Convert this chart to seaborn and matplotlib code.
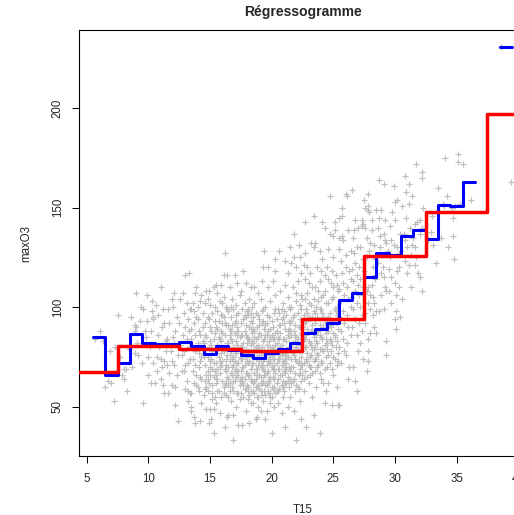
import matplotlib
matplotlib.use("Agg")
import matplotlib.pyplot as plt
import pandas as pd
import seaborn as sns

# Daily observations: afternoon temperature T15 (°C) and maximum ozone maxO3,
# grouped by 1-degree temperature column (same order in both lists).
t15_cols = [
    [5.7, 6.1, 6.3],
    [6.5, 6.7, 7.0, 7.2, 6.9, 7.3],
    [7.5, 8.0, 8.2, 8.0, 8.3, 7.7, 7.9, 8.4],
    [8.9, 9.2, 8.9, 9.0, 8.9, 9.0, 9.4, 8.6, 9.1, 8.7, 9.3],
    [9.5, 9.6, 9.7, 9.9, 10.0, 10.0, 10.2, 10.3, 10.3, 10.4, 10.4, 10.4, 10.5, 9.8, 10.1, 9.6, 10.2, 9.9],
    [10.7, 11.0, 11.0, 11.2, 11.2, 11.3, 11.3, 10.8, 11.1, 10.9, 11.4, 10.7, 11.3, 10.6, 11.0, 10.8, 11.4, 11.1],
    [11.5, 11.6, 11.6, 11.7, 11.9, 11.9, 12.1, 12.1, 12.2, 12.2, 12.4, 11.8, 12.0, 12.2, 12.4, 11.7, 12.3, 12.4,
     12.0, 11.5, 12.3, 11.9, 12.1],
    [12.6, 12.7, 12.9, 13.0, 13.0, 13.0, 13.2, 13.2, 13.3, 13.4, 13.1, 13.3, 12.8, 13.0, 13.2, 12.7, 13.4, 13.1,
     12.9, 13.3, 12.5, 12.6, 13.1, 12.8, 13.4, 12.9, 13.2],
    [13.5, 13.5, 13.5, 13.7, 13.8, 13.8, 14.2, 14.3, 14.3, 13.6, 14.0, 14.2, 13.7, 13.9, 14.1, 14.3, 13.6, 13.8,
     14.0, 14.2, 14.4, 13.7, 13.9, 14.1, 14.4, 13.5, 14.4, 14.0, 13.6, 14.1, 13.8, 14.3, 13.9, 14.2, 13.5],
    [14.7, 14.9, 14.7, 15.0, 14.9, 15.1, 15.3, 15.3, 15.3, 14.6, 15.0, 15.4, 14.5, 14.6, 14.8, 15.0, 15.2, 15.4,
     14.6, 14.8, 15.0, 15.2, 15.4, 14.5, 14.7, 14.9, 15.1, 15.3, 14.6, 14.8, 15.0, 15.2, 15.4, 14.7, 15.1, 14.9,
     15.3, 14.5, 15.2, 14.8],
    [15.5, 15.9, 16.1, 16.2, 16.4, 15.8, 16.0, 16.3, 15.6, 16.1, 15.5, 15.7, 15.9, 16.1, 16.3, 15.6, 15.8, 16.0,
     16.2, 16.4, 15.5, 15.7, 15.9, 16.1, 16.3, 15.6, 15.8, 16.0, 16.2, 16.4, 15.5, 15.7, 15.9, 16.1, 16.3, 15.6,
     16.0, 16.4, 15.8, 16.2, 15.7, 16.0, 16.3, 15.9, 16.2, 15.6],
    [16.9, 16.5, 16.9, 17.0, 17.2, 16.6, 16.8, 17.1, 17.4, 16.5, 16.7, 16.9, 17.1, 17.3, 16.6, 16.8, 17.0, 17.2,
     17.4, 16.5, 16.7, 16.9, 17.1, 17.3, 16.6, 16.8, 17.0, 17.2, 17.4, 16.5, 16.7, 16.9, 17.1, 17.3, 16.6, 16.8,
     17.0, 17.2, 17.4, 16.5, 16.7, 17.1, 17.3, 16.8, 17.0, 16.6, 17.2, 16.9, 17.3, 16.7, 17.1, 16.5, 17.4],
    [17.6, 18.2, 17.9, 18.3, 17.5, 17.7, 17.9, 18.1, 18.3, 17.6, 17.8, 18.0, 18.2, 18.4, 17.5, 17.7, 17.9, 18.1,
     18.3, 17.6, 17.8, 18.0, 18.2, 18.4, 17.5, 17.7, 17.9, 18.1, 18.3, 17.6, 17.8, 18.0, 18.2, 18.4, 17.5, 17.7,
     17.9, 18.1, 18.3, 17.6, 17.8, 18.0, 18.2, 18.4, 17.5, 17.9, 18.3, 17.7, 18.1, 17.8, 18.0, 18.2, 17.6, 18.4,
     17.9, 18.1, 17.5, 18.3],
    [18.8, 18.6, 19.3, 19.4, 18.7, 19.1, 18.5, 18.9, 19.3, 18.6, 18.8, 19.0, 19.2, 19.4, 18.5, 18.7, 18.9, 19.1,
     19.3, 18.6, 18.8, 19.0, 19.2, 19.4, 18.5, 18.7, 18.9, 19.1, 19.3, 18.6, 18.8, 19.0, 19.2, 19.4, 18.5, 18.7,
     18.9, 19.1, 19.3, 18.6, 18.8, 19.0, 19.2, 19.4, 18.5, 18.7, 19.0, 19.3, 18.6, 19.1, 18.9, 19.2, 18.8, 19.0,
     19.2, 18.6, 19.4, 18.7, 19.1, 18.9, 19.3],
    [20.0, 19.5, 20.3, 19.7, 20.3, 19.6, 19.9, 20.2, 19.5, 19.7, 19.9, 20.1, 20.3, 19.6, 19.8, 20.0, 20.2, 20.4,
     19.5, 19.7, 19.9, 20.1, 20.3, 19.6, 19.8, 20.0, 20.2, 20.4, 19.5, 19.7, 19.9, 20.1, 20.3, 19.6, 19.8, 20.0,
     20.2, 20.4, 19.5, 19.7, 19.9, 20.1, 20.3, 19.6, 19.8, 20.0, 20.2, 20.4, 19.5, 19.9, 20.3, 19.7, 20.1, 19.8,
     20.0, 20.2, 19.6, 20.4, 19.9, 20.1],
    [21.1, 20.8, 21.1, 20.6, 21.3, 20.5, 20.9, 21.3, 20.6, 20.8, 21.0, 21.2, 21.4, 20.5, 20.7, 20.9, 21.1, 21.3,
     20.6, 20.8, 21.0, 21.2, 21.4, 20.5, 20.7, 20.9, 21.1, 21.3, 20.6, 20.8, 21.0, 21.2, 21.4, 20.5, 20.7, 20.9,
     21.1, 21.3, 20.6, 20.8, 21.0, 21.2, 21.4, 20.5, 20.9, 21.3, 20.7, 21.1, 20.8, 21.0, 21.2, 20.6, 21.4, 20.9,
     21.1],
    [22.0, 22.4, 21.8, 21.5, 22.2, 21.8, 22.3, 21.6, 22.0, 22.4, 21.5, 21.9, 22.3, 21.6, 21.8, 22.0, 22.2, 22.4,
     21.5, 21.7, 21.9, 22.1, 22.3, 21.6, 21.8, 22.0, 22.2, 22.4, 21.5, 21.7, 21.9, 22.1, 22.3, 21.6, 21.8, 22.0,
     22.2, 22.4, 21.5, 21.7, 21.9, 22.1, 22.3, 21.6, 22.0, 22.4, 21.7, 22.1, 21.9, 22.2, 21.5, 22.3, 21.8],
    [22.8, 23.4, 22.7, 23.4, 23.2, 23.4, 22.7, 22.6, 23.0, 23.3, 22.5, 22.7, 22.9, 23.1, 23.3, 22.6, 22.8, 23.0,
     23.2, 23.4, 22.5, 22.7, 22.9, 23.1, 23.3, 22.6, 22.8, 23.0, 23.2, 23.4, 22.5, 22.7, 22.9, 23.1, 23.3, 22.6,
     22.8, 23.0, 23.2, 23.4, 22.5, 22.9, 23.3, 22.7, 23.1, 22.6, 23.0, 22.8, 23.2, 22.9, 23.4],
    [23.9, 24.3, 24.1, 24.3, 23.9, 23.5, 23.6, 24.0, 24.4, 23.5, 23.7, 23.9, 24.1, 24.3, 23.6, 23.8, 24.0, 24.2,
     24.4, 23.5, 23.7, 23.9, 24.1, 24.3, 23.6, 23.8, 24.0, 24.2, 24.4, 23.5, 23.7, 23.9, 24.1, 24.3, 23.6, 23.8,
     24.0, 24.2, 24.4, 23.5, 23.9, 24.3, 23.7, 24.1, 23.8, 24.2, 24.0],
    [24.7, 24.6, 25.0, 24.7, 25.0, 25.1, 25.1, 24.9, 24.6, 25.0, 25.3, 24.5, 24.7, 24.9, 25.1, 25.3, 24.6, 24.8,
     25.0, 25.2, 25.4, 24.5, 24.7, 24.9, 25.1, 25.3, 24.6, 24.8, 25.0, 25.2, 25.4, 24.5, 24.7, 24.9, 25.1, 25.3,
     24.6, 25.0, 25.4, 24.8, 25.2, 24.5, 24.9, 25.3, 25.4],
    [26.0, 26.1, 25.7, 25.5, 25.7, 25.5, 26.0, 26.4, 25.7, 25.8, 25.5, 25.5, 26.2, 25.6, 26.0, 26.3, 25.5, 25.8,
     26.1, 26.4, 25.6, 25.9, 26.2, 25.5, 25.8, 26.1, 26.4, 25.6, 25.9, 26.2, 25.5, 25.8, 26.1, 26.4, 25.7, 26.0,
     26.3, 25.6, 26.2, 25.9],
    [26.5, 26.9, 26.8, 27.0, 27.4, 26.8, 27.3, 27.3, 27.4, 26.7, 27.0, 26.9, 27.2, 26.6, 26.9, 27.2, 26.5, 26.8,
     27.1, 27.4, 26.6, 26.9, 27.2, 26.5, 26.8, 27.1, 27.4, 26.6, 26.9, 27.2, 26.5, 26.8, 27.1, 27.4, 26.7, 27.0,
     27.3, 26.6],
    [27.7, 27.8, 27.8, 27.8, 27.8, 27.5, 27.8, 27.9, 27.6, 27.8, 28.1, 27.6, 28.1, 27.7, 28.4, 28.1, 27.8, 28.4,
     27.7, 28.0, 27.8, 28.3, 28.0, 28.2, 28.3, 27.6, 28.0, 28.4, 27.9, 28.2, 27.5, 27.7, 28.3, 28.0, 27.6, 28.2],
    [28.7, 29.1, 28.5, 28.9, 28.7, 29.2, 29.1, 29.2, 29.3, 29.1, 29.2, 28.9, 28.5, 28.7, 29.1, 29.3, 28.9, 28.5,
     29.3, 29.3, 28.6, 29.0, 28.8, 29.4, 28.6, 29.0, 28.8],
    [29.9, 30.2, 30.0, 29.6, 30.0, 29.7, 29.9, 30.2, 30.3, 30.2, 30.3, 29.7, 30.0, 29.5, 30.1, 29.7, 30.1, 30.0,
     30.4, 30.1, 29.6, 30.4, 29.8, 30.3, 29.5],
    [30.8, 31.1, 30.9, 31.4, 31.1, 30.6, 30.9, 30.8, 31.0, 31.4, 31.3, 30.8, 31.1, 30.6, 31.2, 30.7, 31.0, 30.5,
     31.3],
    [31.7, 32.2, 32.2, 31.8, 31.6, 32.0, 32.2, 32.0, 31.6, 31.7, 31.6, 31.9, 32.0, 32.2, 31.5, 32.3],
    [32.7, 33.1, 32.9, 33.3, 33.0],
    [33.5, 33.7, 34.3, 34.1, 34.0, 33.9, 34.2],
    [34.7, 34.7, 34.8, 35.1, 35.1, 34.9, 35.3, 34.6],
    [35.5, 36.2],
    [38.6, 39.4],
    # further days in the crowded 14-25 °C range
    [13.6, 13.8, 14.0, 14.2, 14.4, 13.5, 13.9, 14.3, 13.7, 14.1],
    [14.6, 14.8, 15.0, 15.2, 15.4, 14.5, 14.7, 14.9, 15.1, 15.3, 14.6, 14.8, 15.0, 15.2, 15.4],
    [15.6, 15.8, 16.0, 16.2, 16.4, 15.5, 15.7, 15.9, 16.1, 16.3, 15.6, 15.8, 16.0, 16.2, 16.4, 15.5, 15.9, 16.3],
    [16.6, 16.8, 17.0, 17.2, 17.4, 16.5, 16.7, 16.9, 17.1, 17.3, 16.6, 16.8, 17.0, 17.2, 17.4, 16.5, 16.9, 17.3,
     16.7, 17.1],
    [17.5, 17.7, 17.9, 18.1, 18.3, 17.6, 17.8, 18.0, 18.2, 18.4, 17.5, 17.7, 17.9, 18.1, 18.3, 17.6, 18.0, 18.4,
     17.8, 18.2],
    [18.6, 18.8, 19.0, 19.2, 19.4, 18.5, 18.7, 18.9, 19.1, 19.3, 18.6, 18.8, 19.0, 19.2, 19.4, 18.5, 18.9, 19.3,
     18.7, 19.1],
    [19.5, 19.7, 19.9, 20.1, 20.3, 19.6, 19.8, 20.0, 20.2, 20.4, 19.5, 19.7, 19.9, 20.1, 20.3, 19.6, 20.0, 20.4,
     19.8, 20.2],
    [20.5, 20.7, 20.9, 21.1, 21.3, 20.6, 20.8, 21.0, 21.2, 21.4, 20.5, 20.7, 20.9, 21.1, 21.3, 20.6, 21.0, 21.4,
     20.8, 21.2],
    [21.5, 21.7, 21.9, 22.1, 22.3, 21.6, 21.8, 22.0, 22.2, 22.4, 21.5, 21.7, 21.9, 22.1, 22.3, 21.6, 22.0, 22.4],
    [22.5, 22.7, 22.9, 23.1, 23.3, 22.6, 22.8, 23.0, 23.2, 23.4, 22.5, 22.9, 23.3, 22.7, 23.1],
    [23.5, 23.7, 23.9, 24.1, 24.3, 23.6, 23.8, 24.0, 24.2, 24.4, 23.5, 23.9, 24.3, 23.7],
    [24.5, 24.7, 24.9, 25.1, 25.3, 24.6, 24.8, 25.0, 25.2, 25.4, 24.6, 25.0],
]

maxo3_cols = [
    [84, 88, 83],
    [60, 63, 62, 53, 78, 80],
    [96, 69, 69, 64, 58, 75, 66, 79],
    [77, 76, 91, 90, 88, 107, 100, 95, 82, 70, 93],
    [72, 52, 88, 93, 75, 66, 62, 103, 98, 95, 94, 72, 62, 85, 80, 99, 88, 106],
    [75, 74, 110, 99, 61, 73, 57, 86, 90, 80, 83, 68, 92, 101, 64, 96, 78, 70],
    [71, 99, 57, 67, 73, 61, 71, 107, 60, 51, 43, 78, 85, 88, 80, 92, 95, 76,
     100, 84, 66, 104, 82],
    [104, 68, 68, 71, 116, 59, 58, 53, 117, 57, 102, 80, 86, 90, 94, 76, 74, 84,
     97, 88, 92, 81, 63, 107, 99, 78, 72],
    [57, 50, 48, 45, 42, 107, 43, 106, 52, 102, 100, 103, 62, 66, 70, 64, 74, 78,
     82, 86, 90, 92, 95, 88, 76, 84, 97, 60, 68, 58, 86, 80, 110, 73, 99],
    [108, 108, 49, 49, 42, 44, 49, 37, 110, 102, 101, 100, 56, 63, 58, 66, 61, 55,
     71, 75, 70, 78, 68, 82, 85, 80, 88, 84, 92, 95, 90, 97, 93, 66, 74, 62,
     72, 77, 54, 104],
    [111, 111, 116, 127, 116, 103, 102, 100, 107, 105, 52, 58, 55, 60, 56, 64, 67, 63,
     69, 65, 72, 75, 71, 78, 74, 81, 84, 79, 86, 82, 90, 93, 88, 95, 91, 98,
     96, 45, 47, 40, 85, 73, 62, 77, 92, 69],
    [33, 46, 46, 116, 112, 110, 104, 101, 106, 98, 95, 99, 93, 97, 89, 91, 87, 90,
     85, 82, 84, 80, 83, 79, 76, 74, 77, 72, 75, 70, 67, 71, 65, 68, 62, 60,
     63, 57, 61, 55, 53, 50, 41, 66, 73, 86, 81, 58, 88, 78, 69, 64, 54],
    [41, 42, 48, 52, 57, 55, 59, 54, 58, 62, 64, 61, 66, 63, 68, 70, 67, 72,
     69, 74, 76, 73, 78, 75, 80, 82, 79, 84, 81, 86, 88, 85, 90, 87, 92, 94,
     91, 96, 93, 99, 102, 98, 104, 100, 108, 112, 110, 118, 60, 71, 77, 56, 65, 83,
     86, 66, 74, 97],
    [45, 110, 120, 128, 44, 48, 52, 50, 53, 57, 55, 59, 56, 58, 62, 64, 61, 65,
     63, 67, 69, 66, 70, 68, 72, 74, 71, 75, 73, 77, 79, 76, 80, 78, 82, 84,
     81, 86, 83, 88, 90, 87, 92, 89, 95, 97, 94, 99, 102, 104, 107, 113, 60, 73,
     62, 79, 66, 69, 58, 85, 77],
    [37, 44, 124, 120, 118, 48, 52, 50, 56, 58, 55, 59, 57, 61, 63, 60, 64, 62,
     66, 68, 65, 69, 67, 71, 73, 70, 74, 72, 76, 78, 75, 79, 77, 81, 83, 80,
     84, 82, 86, 88, 85, 90, 87, 92, 95, 93, 97, 94, 100, 103, 106, 110, 113, 64,
     76, 69, 86, 58, 72, 84],
    [40, 47, 123, 128, 117, 52, 55, 50, 59, 61, 58, 62, 60, 64, 66, 63, 67, 65,
     69, 71, 68, 72, 70, 74, 76, 73, 77, 75, 79, 81, 78, 83, 80, 85, 87, 84,
     89, 86, 91, 94, 92, 96, 93, 99, 102, 105, 108, 111, 76, 84, 69, 97, 100, 60,
     74],
    [33, 44, 137, 130, 131, 125, 125, 122, 120, 117, 55, 58, 53, 62, 64, 61, 66, 63,
     68, 70, 67, 72, 69, 74, 76, 73, 78, 75, 80, 82, 79, 84, 81, 86, 88, 85,
     90, 87, 92, 95, 91, 97, 94, 100, 103, 106, 110, 113, 74, 59, 99, 101, 48],
    [40, 46, 143, 146, 132, 130, 127, 58, 62, 55, 66, 68, 65, 70, 67, 72, 74, 71,
     76, 73, 78, 80, 77, 82, 79, 84, 86, 83, 88, 85, 90, 92, 89, 94, 91, 96,
     99, 95, 101, 98, 104, 107, 110, 114, 117, 121, 112, 80, 70, 120, 104],
    [37, 52, 143, 140, 128, 132, 60, 64, 58, 68, 70, 67, 72, 69, 74, 76, 73, 78,
     75, 80, 82, 79, 84, 81, 86, 88, 85, 90, 87, 92, 95, 91, 97, 94, 100, 103,
     99, 106, 102, 110, 113, 116, 120, 124, 108, 62, 118],
    [156, 129, 125, 137, 136, 139, 143, 51, 62, 66, 60, 70, 72, 69, 74, 71, 76, 78,
     75, 80, 77, 82, 84, 81, 86, 83, 88, 90, 87, 92, 89, 94, 97, 93, 99, 96,
     102, 105, 108, 112, 116, 120, 118, 111, 51],
    [157, 156, 150, 145, 146, 129, 126, 128, 136, 134, 135, 51, 64, 72, 76, 70, 80, 84,
     82, 86, 88, 92, 90, 95, 98, 96, 100, 103, 106, 104, 109, 112, 110, 114, 117, 120,
     118, 123, 139, 78],
    [159, 58, 63, 78, 74, 144, 144, 141, 142, 139, 140, 130, 130, 70, 86, 82, 90, 94,
     92, 96, 99, 102, 100, 105, 108, 106, 110, 113, 116, 114, 119, 122, 120, 124, 127, 111,
     88, 135],
    [68, 84, 78, 73, 157, 154, 151, 148, 150, 149, 144, 140, 139, 135, 116, 111, 110, 114,
     108, 106, 102, 102, 99, 96, 90, 92, 87, 124, 128, 120, 118, 125, 131, 132, 97, 105],
    [164, 162, 149, 149, 145, 144, 137, 134, 132, 115, 110, 117, 98, 98, 99, 108, 106, 87,
     83, 76, 122, 126, 130, 128, 140, 120, 136],
    [161, 154, 153, 141, 144, 134, 131, 130, 127, 118, 120, 115, 112, 119, 106, 102, 98, 94,
     95, 89, 125, 137, 148, 110, 108],
    [166, 162, 158, 156, 152, 151, 145, 134, 130, 131, 126, 123, 121, 104, 140, 137, 117, 128,
     110],
    [172, 168, 165, 143, 142, 144, 140, 137, 130, 125, 121, 117, 115, 108, 135, 150],
    [134, 131, 138, 122, 146],
    [160, 135, 130, 175, 151, 152, 156],
    [145, 136, 124, 177, 173, 151, 152, 150],
    [172, 154],
    [231, 163],
    # further days in the crowded 14-25 °C range
    [79, 71, 94, 65, 83, 89, 61, 75, 98, 77],
    [59, 64, 73, 69, 87, 75, 60, 94, 81, 65, 86, 68, 83, 57, 79],
    [58, 70, 87, 61, 76, 66, 80, 96, 57, 68, 89, 73, 92, 79, 99, 62, 83, 71],
    [58, 70, 92, 66, 79, 61, 88, 75, 96, 57, 73, 83, 68, 86, 64, 91, 63, 72,
     100, 77],
    [63, 77, 95, 58, 89, 70, 59, 82, 73, 92, 86, 61, 75, 99, 64, 80, 67, 71,
     96, 84],
    [63, 75, 91, 71, 84, 58, 80, 96, 62, 69, 85, 66, 79, 98, 74, 89, 55, 93,
     60, 71],
    [61, 73, 89, 65, 81, 96, 57, 86, 71, 78, 91, 62, 80, 74, 99, 67, 55, 88,
     77, 60],
    [69, 80, 95, 62, 88, 74, 66, 98, 79, 85, 58, 91, 77, 70, 63, 84, 73, 89,
     99, 76],
    [64, 77, 86, 60, 90, 70, 96, 80, 73, 99, 88, 63, 83, 79, 67, 93, 107, 71],
    [71, 84, 97, 75, 88, 64, 93, 102, 81, 79, 86, 73, 95, 104, 66],
    [74, 88, 99, 79, 92, 83, 71, 105, 95, 84, 97, 86, 108, 77],
    [79, 91, 104, 85, 100, 95, 83, 110, 98, 73, 114, 92],
]

# Regressogram with 1-degree bins: bin centre and mean maxO3
fine_centres = list(range(6, 37)) + [39]
fine_means = [85.2, 66.0, 72.0, 86.7, 82.0, 81.7, 81.5, 82.7, 80.6, 76.4, 80.4,
              78.6, 76.0, 74.6, 76.8, 78.8, 82.2, 87.2, 88.9, 91.9, 103.6,
              107.3, 115.3, 127.0, 126.0, 135.8, 138.8, 134.3, 151.4, 151.0,
              163.0, 230.7]

# Regressogram with 5-degree bins
coarse_centres = [5, 10, 15, 20, 25, 30, 35, 40]
coarse_means = [67.3, 80.6, 79.2, 78.0, 94.2, 125.9, 147.7, 197.0]

for xs, ys in zip(t15_cols, maxo3_cols):
    assert len(xs) == len(ys), (xs, ys)


def step_runs(centres, means, width):
    """Split bins into contiguous runs and return step coordinates for each."""
    runs, cur = [], [(centres[0], means[0])]
    for c, m in zip(centres[1:], means[1:]):
        if abs(c - cur[-1][0] - width) < 1e-9:
            cur.append((c, m))
        else:
            runs.append(cur)
            cur = [(c, m)]
    runs.append(cur)
    frames = []
    for run in runs:
        xs = [c - width / 2 for c, _ in run] + [run[-1][0] + width / 2]
        ys = [m for _, m in run] + [run[-1][1]]
        frames.append(pd.DataFrame({"T15": xs, "maxO3": ys}))
    return frames


sns.set_style("ticks")
plt.rcParams["font.family"] = ["Liberation Sans", "DejaVu Sans"]

fig = plt.figure(figsize=(5.14, 5.15), dpi=100)
ax = fig.add_axes([79 / 514, 59 / 515, 448 / 514, 426 / 515])

obs = pd.DataFrame({"T15": sum(t15_cols, []), "maxO3": sum(maxo3_cols, [])})
sns.scatterplot(data=obs, x="T15", y="maxO3", marker="+", s=14,
                color="#bebebe", linewidth=0.85, ax=ax, zorder=1)

for seg in step_runs(fine_centres, fine_means, 1):
    sns.lineplot(data=seg, x="T15", y="maxO3", estimator=None, sort=False,
                 drawstyle="steps-post", color="#0000ff", linewidth=2.2,
                 ax=ax, zorder=2)
for seg in step_runs(coarse_centres, coarse_means, 5):
    sns.lineplot(data=seg, x="T15", y="maxO3", estimator=None, sort=False,
                 drawstyle="steps-post", color="#ff0000", linewidth=2.5,
                 ax=ax, zorder=3)

ax.set_xlim(4.376, 40.71)
ax.set_ylim(25.2, 239.3)
ax.set_xticks(range(5, 45, 5))
ax.set_yticks([50, 100, 150, 200])

for side in ["left", "bottom", "top", "right"]:
    ax.spines[side].set_color("black")
    ax.spines[side].set_linewidth(0.8)

ax.tick_params(axis="both", direction="out", length=5, width=0.75,
               labelsize=8.3, color="black")
ax.tick_params(axis="x", pad=7)
ax.tick_params(axis="y", pad=6, labelrotation=90)
for lab in ax.get_yticklabels():
    lab.set_va("center")

ax.set_xlabel("T15", fontsize=8.3, labelpad=14)
ax.set_ylabel("maxO3", fontsize=8.3, labelpad=14)
ax.set_title("Régressogramme", fontsize=10, fontweight="bold", pad=10)

fig.savefig("out.png", dpi=100)
